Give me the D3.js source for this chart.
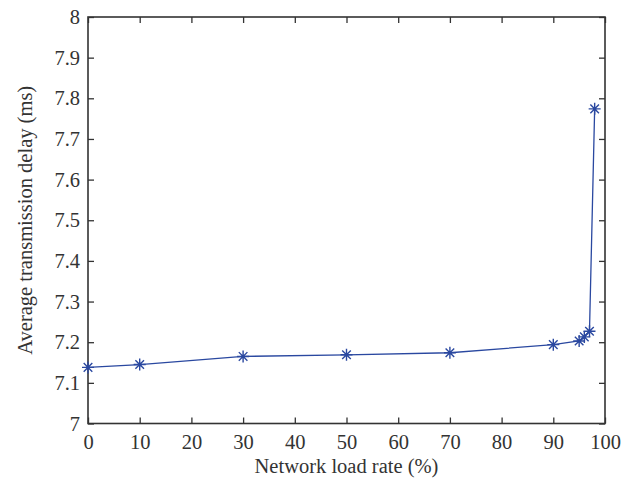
<!DOCTYPE html>
<html><head><meta charset="utf-8">
<script src="https://cdn.jsdelivr.net/npm/d3@7"></script>
<style>body{margin:0;background:#fff}svg{display:block}</style>
</head><body>
<svg id="c" width="632" height="485"></svg>
<script>
const loadRate = [0, 10, 30, 50, 70, 90, 95, 96, 97, 98];
const delay = [7.138, 7.145, 7.165, 7.169, 7.174, 7.194, 7.203, 7.213, 7.227, 7.774];
const xTicks = [0,10,20,30,40,50,60,70,80,90,100];
const yTicks = [7,7.1,7.2,7.3,7.4,7.5,7.6,7.7,7.8,7.9,8];

const svg = d3.select('#c');
const L=88, R=605, T=17, B=423.5;
const x = d3.scaleLinear().domain([0,100]).range([L,R]);
const y = d3.scaleLinear().domain([7,8]).range([B,T]);
const font = "'Liberation Serif', 'Times New Roman', 'DejaVu Serif', serif";
const axisCol = '#333';
const fs = 20.5;

function style(g){
  g.select('.domain').remove();
  g.selectAll('line').attr('stroke',axisCol).attr('stroke-width',1.3);
  g.selectAll('text').attr('font-family',font).attr('font-size',fs).attr('fill','#333');
}
svg.append('g').attr('transform',`translate(0,${B})`)
  .call(d3.axisBottom(x).tickValues(xTicks).tickSize(-6).tickPadding(11).tickFormat(d3.format('d')))
  .call(style);
svg.append('g').attr('transform',`translate(0,${T})`)
  .call(d3.axisTop(x).tickValues(xTicks).tickSize(-6).tickFormat(''))
  .call(style);
svg.append('g').attr('transform',`translate(${L},0)`)
  .call(d3.axisLeft(y).tickValues(yTicks).tickSize(-6).tickPadding(8).tickFormat(d=>String(+d.toFixed(1))))
  .call(style);
svg.append('g').attr('transform',`translate(${R},0)`)
  .call(d3.axisRight(y).tickValues(yTicks).tickSize(-6).tickFormat(''))
  .call(style);
svg.append('rect').attr('x',L).attr('y',T).attr('width',R-L).attr('height',B-T)
  .attr('fill','none').attr('stroke',axisCol).attr('stroke-width',1.6);

const col = '#2a48a0';
const data = loadRate.map((d,i)=>({x:d,y:delay[i]}));
svg.append('path').datum(data)
  .attr('d', d3.line().x(d=>x(d.x)).y(d=>y(d.y)))
  .attr('fill','none').attr('stroke',col).attr('stroke-width',1.3);

const s=6, s2=4.3;
svg.append('g').selectAll('path').data(data).join('path')
  .attr('transform',d=>`translate(${x(d.x)},${y(d.y)})`)
  .attr('d',`M${-s},0H${s}M0,${-s}V${s}M${-s2},${-s2}L${s2},${s2}M${-s2},${s2}L${s2},${-s2}`)
  .attr('stroke',col).attr('stroke-width',1.4).attr('fill','none');

svg.append('text').attr('x',(L+R)/2).attr('y',473).attr('text-anchor','middle')
  .attr('font-family',font).attr('font-size',fs).attr('fill','#333')
  .text('Network load rate (%)');
svg.append('text').attr('transform',`translate(32,${(T+B)/2}) rotate(-90)`).attr('text-anchor','middle')
  .attr('font-family',font).attr('font-size',fs).attr('fill','#333')
  .text('Average transmission delay (ms)');
</script>
</body></html>
